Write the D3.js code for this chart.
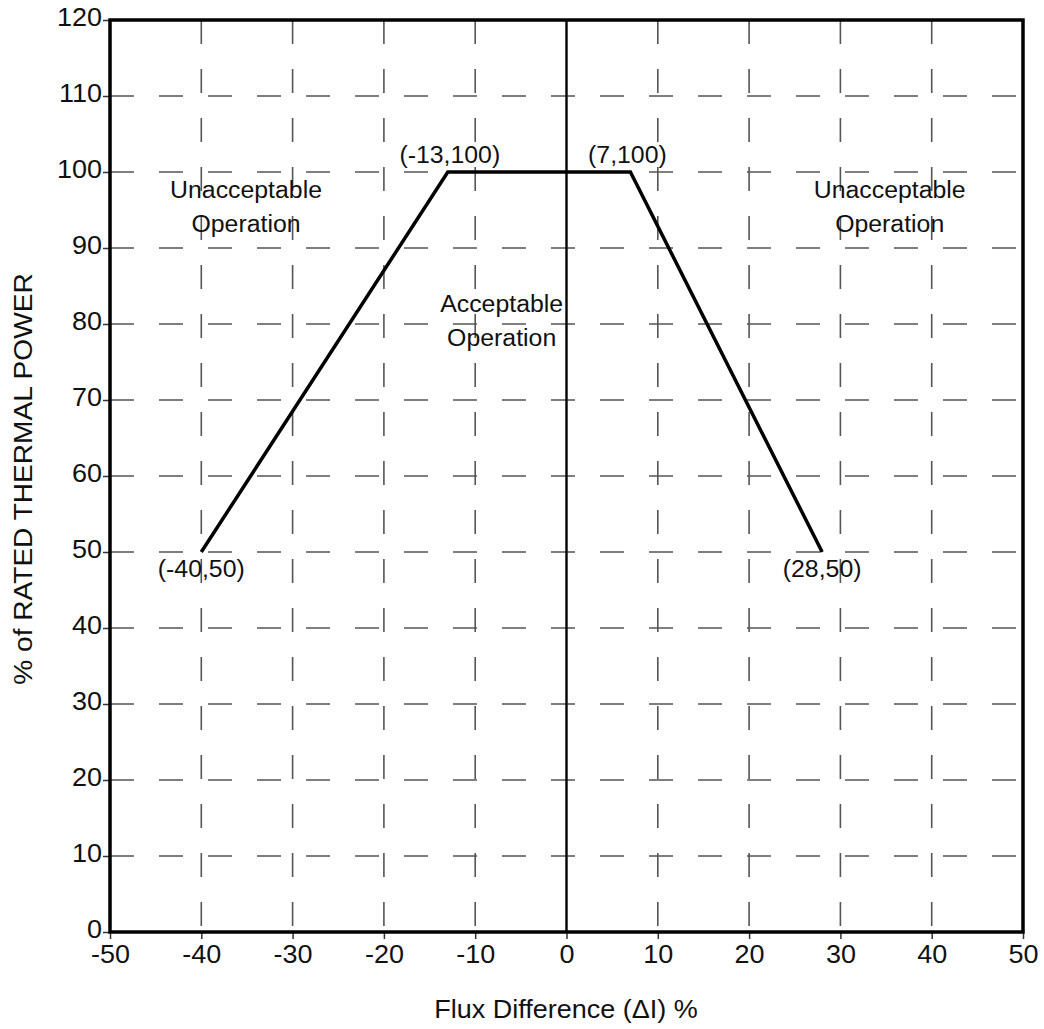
<!DOCTYPE html>
<html>
<head>
<meta charset="utf-8">
<script src="https://cdn.jsdelivr.net/npm/d3@7"></script>
<style>
  body { margin: 0; background: #fff; }
  svg { font-family: "Liberation Sans", Arial, sans-serif; }
</style>
</head>
<body>
<svg id="chart" width="1044" height="1029"></svg>
<script>
// limites de la courbe (Delta I, puissance)
const fluxValues = [-40, -13, 7, 28];
const powerValues = [50, 100, 100, 50];
const xTicks = [-50, -40, -30, -20, -10, 0, 10, 20, 30, 40, 50];
const yTicks = [0, 10, 20, 30, 40, 50, 60, 70, 80, 90, 100, 110, 120];
const pointLabels = ["(-40,50)", "(-13,100)", "(7,100)", "(28,50)"];

const margin = { top: 20, right: 21, bottom: 97, left: 110 };
const width = 1044, height = 1029;
const stretch = 1.08; // la police d'origine est un peu plus large

const svg = d3.select("#chart");

const x = d3.scaleLinear().domain([-50, 50]).range([margin.left, width - margin.right]);
const y = d3.scaleLinear().domain([0, 120]).range([height - margin.bottom, margin.top]);

// grille en tirets
const grid = svg.append("g")
    .attr("stroke", "#555")
    .attr("stroke-width", 1.6)
    .attr("stroke-dasharray", "24,25");

grid.selectAll(".v")
  .data(xTicks.filter(d => d !== -50 && d !== 50 && d !== 0))
  .join("line")
    .attr("x1", d => x(d)).attr("x2", d => x(d))
    .attr("y1", y(120)).attr("y2", y(0));

grid.selectAll(".h")
  .data(yTicks.filter(d => d !== 0 && d !== 120))
  .join("line")
    .attr("x1", x(-50)).attr("x2", x(50))
    .attr("y1", d => y(d)).attr("y2", d => y(d));

// axe vertical à zéro
svg.append("line")
    .attr("x1", x(0)).attr("x2", x(0))
    .attr("y1", y(120)).attr("y2", y(0))
    .attr("stroke", "#000")
    .attr("stroke-width", 2.4);

// axes
const xAxis = svg.append("g")
    .attr("transform", `translate(0,${y(0)})`)
    .call(d3.axisBottom(x).tickValues(xTicks).tickSize(7).tickSizeOuter(0).tickFormat(d => String(d)));
const yAxis = svg.append("g")
    .attr("transform", `translate(${x(-50)},0)`)
    .call(d3.axisLeft(y).tickValues(yTicks).tickSize(7).tickSizeOuter(0).tickFormat(d => String(d)));

for (const ax of [xAxis, yAxis]) {
  ax.select(".domain").remove();
  ax.selectAll(".tick line").attr("stroke", "#333").attr("stroke-width", 1.5);
  ax.selectAll(".tick text").attr("font-size", 25).attr("fill", "#111")
    .attr("font-family", "Liberation Sans, Arial, sans-serif");
}
xAxis.selectAll(".tick text").attr("y", 31).attr("dy", 0);
yAxis.selectAll(".tick text").attr("x", -8).attr("dy", "0.22em");

// cadre
svg.append("rect")
    .attr("x", x(-50)).attr("y", y(120))
    .attr("width", x(50) - x(-50)).attr("height", y(0) - y(120))
    .attr("fill", "none")
    .attr("stroke", "#000")
    .attr("stroke-width", 3.5);

// courbe
const pts = fluxValues.map((f, i) => [f, powerValues[i]]);
svg.append("path")
    .datum(pts)
    .attr("fill", "none")
    .attr("stroke", "#000")
    .attr("stroke-width", 3.5)
    .attr("stroke-linejoin", "miter")
    .attr("d", d3.line().x(d => x(d[0])).y(d => y(d[1])));

// étiquettes des points
const labelOffsets = [[0, 25], [2, -9], [-3, -9], [0, 25]];
svg.append("g")
    .selectAll("text")
    .data(pts)
    .join("text")
      .attr("x", (d, i) => x(d[0]) + labelOffsets[i][0])
      .attr("y", (d, i) => y(d[1]) + labelOffsets[i][1])
      .attr("text-anchor", "middle")
      .attr("font-size", 23)
      .attr("fill", "#111")
      .text((d, i) => pointLabels[i]);

// zones
const zones = [
  { lines: ["Unacceptable", "Operation"], fx: -35.1, p: 100, dy: 26 },
  { lines: ["Unacceptable", "Operation"], fx: 35.4, p: 100, dy: 26 },
  { lines: ["Acceptable", "Operation"], fx: -7.1, p: 80, dy: -12 }
];
for (const z of zones) {
  z.lines.forEach((t, i) => {
    svg.append("text")
        .attr("x", x(z.fx))
        .attr("y", y(z.p) + z.dy + i * 34)
        .attr("text-anchor", "middle")
        .attr("font-size", 23)
        .attr("fill", "#111")
        .text(t);
  });
}

// titres des axes
svg.append("text")
    .attr("x", 566)
    .attr("y", 1018)
    .attr("text-anchor", "middle")
    .attr("font-size", 25)
    .attr("fill", "#111")
    .text("Flux Difference (\u0394I) %");

svg.append("text")
    .attr("transform", `translate(32,${(y(0) + y(120)) / 2 + 3}) rotate(-90)`)
    .attr("text-anchor", "middle")
    .attr("font-size", 26)
    .attr("fill", "#111")
    .text("% of RATED THERMAL POWER");

// élargir un peu les textes
svg.selectAll("text").each(function() {
  const l = this.getComputedTextLength();
  d3.select(this).attr("textLength", l * stretch).attr("lengthAdjust", "spacingAndGlyphs");
});
</script>
</body>
</html>
